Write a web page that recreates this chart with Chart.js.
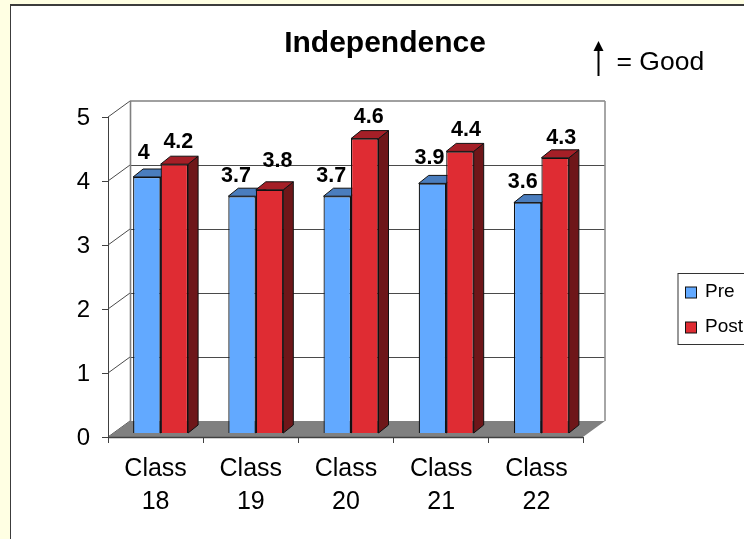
<!DOCTYPE html>
<html>
<head>
<meta charset="utf-8">
<style>
    html, body { margin: 0; padding: 0; width: 744px; height: 539px; overflow: hidden; background: #FFFFE3; }
    #panel { position: absolute; left: 10px; top: 4px; right: -4px; bottom: -4px; background: #fff; border-left: 1.5px solid #3c3c3c; border-top: 2px solid #3c3c3c; }
    #independenceChart { position: absolute; left: 0; top: 0; }
</style>
<script src="https://cdn.jsdelivr.net/npm/chart.js"></script>
</head>
<body>
<div id="panel"></div>
<canvas id="independenceChart" width="744" height="539"></canvas>
<script>
// chart values
const classes = [["Class", "18"], ["Class", "19"], ["Class", "20"], ["Class", "21"], ["Class", "22"]];
const preValues = [4, 3.7, 3.7, 3.9, 3.6];
const postValues = [4.2, 3.8, 4.6, 4.4, 4.3];
const yTicks = [0, 1, 2, 3, 4, 5];

// hand placed label offsets from the bar centre / top, as in the original
const preLabelShift = [[-3, -24], [-6, -20], [-6, -20], [-3, -25], [-5, -21]];
const postLabelShift = [[4, -22], [8, -29], [4, -22], [6, -21], [6, -20]];

const FONT = "'Liberation Sans', Arial, sans-serif";
const BAR_DX = 10, BAR_DY = -8;     // depth of one bar
const WALL_DX = 17, WALL_DY = -12;  // bar plane -> back wall
const FRONT_DX = -5, FRONT_DY = 4;  // bar plane -> front edge of floor
const RIGHT_TRIM = 1;               // bars run slightly wider than the floor

function poly(ctx, pts, fill, stroke, lw) {
    ctx.beginPath();
    pts.forEach(function (p, i) { i ? ctx.lineTo(p[0], p[1]) : ctx.moveTo(p[0], p[1]); });
    ctx.closePath();
    if (fill) { ctx.fillStyle = fill; ctx.fill(); }
    if (stroke) { ctx.strokeStyle = stroke; ctx.lineWidth = lw || 1; ctx.stroke(); }
}

function line(ctx, x1, y1, x2, y2, color, lw) {
    ctx.beginPath();
    ctx.moveTo(x1, y1);
    ctx.lineTo(x2, y2);
    ctx.strokeStyle = color;
    ctx.lineWidth = lw || 1;
    ctx.stroke();
}

const box3d = {
    id: "box3d",
    beforeDatasetsDraw(chart) {
        const ctx = chart.ctx, a = chart.chartArea, y = chart.scales.y;
        const fx0 = a.left + FRONT_DX, fx1 = a.right - RIGHT_TRIM + FRONT_DX, fy0 = a.bottom + FRONT_DY;
        const wx0 = a.left + WALL_DX, wx1 = a.right - RIGHT_TRIM + WALL_DX, wy0 = a.bottom + WALL_DY;
        ctx.save();

        // back wall gridlines and left wall diagonals
        yTicks.forEach(function (v) {
            const py = y.getPixelForValue(v);
            if (v > 0 && v < 5) line(ctx, wx0, py + WALL_DY + 0.5, wx1, py + WALL_DY + 0.5, "#4a4a4a", 1);
            line(ctx, fx0, py + FRONT_DY, wx0, py + WALL_DY, "#4a4a4a", 1);
        });
        // wall frame
        const wallTop = y.getPixelForValue(5) + WALL_DY;
        line(ctx, wx0, wallTop, wx1, wallTop, "#808080", 1.6);
        line(ctx, wx0 + 0.5, wallTop, wx0 + 0.5, wy0, "#808080", 1.6);
        line(ctx, wx1, wallTop, wx1, wy0, "#909090", 1.6);

        // floor
        poly(ctx, [[fx0, fy0], [wx0, wy0], [wx1, wy0], [fx1, fy0]], "#808080");

        // front axes
        line(ctx, fx0 + 0.5, y.getPixelForValue(5) + FRONT_DY, fx0 + 0.5, fy0 + 6, "#404040", 1);
        line(ctx, fx0, fy0 + 0.5, fx1, fy0 + 0.5, "#404040", 1.5);
        yTicks.forEach(function (v) {
            const py = Math.round(y.getPixelForValue(v) + FRONT_DY) + 0.5;
            line(ctx, fx0 - 6, py, fx0, py, "#404040", 1);
        });
        const step = (fx1 - fx0) / classes.length;
        for (let i = 0; i <= classes.length; i++) {
            const px = Math.round(fx0 + step * i) + 0.5;
            line(ctx, px, fy0, px, fy0 + 6, "#404040", 1);
        }

        // top and side faces of the bars, fronts come from the library
        const faces = [["#4A7DBE", "#2F5A8F"], ["#A51F27", "#6E1619"]];
        chart.data.datasets.forEach(function (ds, d) {
            chart.getDatasetMeta(d).data.forEach(function (bar) {
                const l = bar.x - bar.width / 2, r = bar.x + bar.width / 2, t = bar.y, b = bar.base;
                poly(ctx, [[r, t], [r + BAR_DX, t + BAR_DY], [r + BAR_DX, b + BAR_DY], [r, b]], faces[d][1], "#111", 1);
                poly(ctx, [[l, t], [l + BAR_DX, t + BAR_DY], [r + BAR_DX, t + BAR_DY], [r, t]], faces[d][0], "#111", 1);
            });
        });
        ctx.restore();
    },
    afterDatasetsDraw(chart) {
        const ctx = chart.ctx;
        ctx.save();

        // value labels
        ctx.font = "bold 21.5px " + FONT;
        ctx.fillStyle = "#000";
        ctx.textAlign = "center";
        ctx.textBaseline = "middle";
        const shifts = [preLabelShift, postLabelShift];
        chart.data.datasets.forEach(function (ds, d) {
            chart.getDatasetMeta(d).data.forEach(function (bar, i) {
                ctx.fillText(String(ds.data[i]), bar.x + shifts[d][i][0], bar.y + shifts[d][i][1]);
            });
        });

        // title
        ctx.font = "bold 30px " + FONT;
        ctx.fillText("Independence", 385, 43.5);

        // arrow = good
        line(ctx, 598.5, 48, 598.5, 76, "#000", 2);
        poly(ctx, [[598.5, 41], [593.5, 51], [603.5, 51]], "#000");
        ctx.font = "26.5px " + FONT;
        ctx.textAlign = "left";
        ctx.fillText("= Good", 616.5, 63);

        // legend box, runs off the right edge like the original
        ctx.fillStyle = "#fff";
        ctx.fillRect(678, 273.5, 80, 71);
        ctx.strokeStyle = "#333";
        ctx.lineWidth = 1;
        ctx.strokeRect(678, 273.5, 80, 71);
        ctx.font = "19px " + FONT;
        const rows = [292, 327];
        chart.data.datasets.forEach(function (ds, d) {
            ctx.fillStyle = ds.backgroundColor;
            ctx.fillRect(685.5, rows[d] - 5, 11, 11);
            ctx.strokeStyle = "#111";
            ctx.strokeRect(685.5, rows[d] - 5, 11, 11);
            ctx.fillStyle = "#000";
            ctx.fillText(ds.label, 705, rows[d]);
        });
        ctx.restore();
    }
};

new Chart(document.getElementById("independenceChart"), {
    type: "bar",
    data: {
        labels: classes,
        datasets: [
            { label: "Pre", data: preValues, backgroundColor: "#62A9FF", borderColor: "#111", borderWidth: 1.25 },
            { label: "Post", data: postValues, backgroundColor: "#DF2C33", borderColor: "#111", borderWidth: 1.25 }
        ]
    },
    options: {
        responsive: false,
        animation: false,
        layout: { padding: { top: 113, right: 155 } },
        events: [],
        datasets: { bar: { categoryPercentage: 55 / 95.2, barPercentage: 1 } },
        plugins: {
            legend: { display: false },
            title: { display: false },
            tooltip: { enabled: false }
        },
        scales: {
            x: {
                grid: { display: false },
                border: { display: false },
                afterFit(scale) { scale.height = 106; },
                ticks: {
                    color: "#000",
                    font: { family: FONT, size: 25, lineHeight: 1.3 },
                    maxRotation: 0,
                    autoSkip: false,
                    padding: 12,
                    labelOffset: -5
                }
            },
            y: {
                min: 0,
                max: 5,
                grid: { display: false },
                border: { display: false },
                afterFit(scale) { scale.width = 113; },
                ticks: {
                    color: "#000",
                    font: { family: FONT, size: 24 },
                    stepSize: 1,
                    padding: 15,
                    labelOffset: 5
                }
            }
        }
    },
    plugins: [box3d]
});
</script>
</body>
</html>
